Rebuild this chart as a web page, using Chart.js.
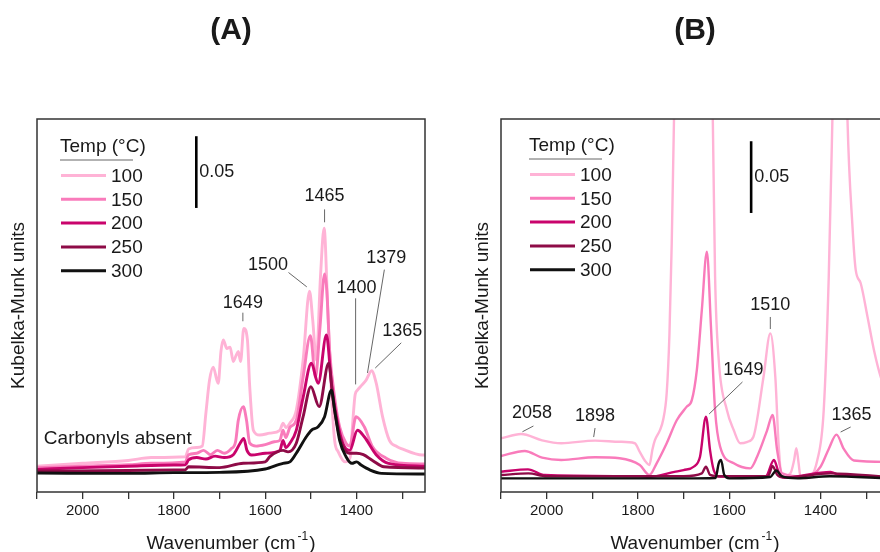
<!DOCTYPE html>
<html>
<head>
<meta charset="utf-8">
<script src="https://cdn.jsdelivr.net/npm/chart.js@4.4.0/dist/chart.umd.min.js"></script>
<style>
html, body { margin: 0; padding: 0; background: #fff; overflow: hidden; width: 880px; height: 552px; }
#wrapA { position: absolute; left: 0; top: 0; width: 440px; height: 552px; }
#wrapB { position: absolute; left: 440px; top: 0; width: 440px; height: 552px; overflow: hidden; }
</style>
</head>
<body>
<div id="wrapA"><canvas id="chartA" width="440" height="552"></canvas></div>
<div id="wrapB"><canvas id="chartB" width="460" height="552"></canvas></div>
<script>
// temperatures (legend) and line colours
var temps = ['100', '150', '200', '250', '300'];
var lineColors = ['#ffb3d6', '#f97bbb', '#c9046c', '#8e0b47', '#111111'];

// x tick labels
var tickLabels = [2000, 1800, 1600, 1400];

// Panel A spectra: [wavenumber, Kubelka-Munk]
var a100 = [[2100,.018],[2000,.020],[1900,.022],[1850,.024],[1775,.0246],[1768,.030],[1750,.031],[1738,.032],[1730,.055],[1722,.078],[1714,.087],[1706,.078],[1703,.0757],[1697,.098],[1692,.106],[1684,.100],[1677,.101],[1670,.091],[1664,.095],[1659,.098],[1654,.091],[1647,.114],[1639,.106],[1634,.0734],[1626,.043],[1612,.0397],[1590,.041],[1568,.043],[1561,.048],[1555,.045],[1546,.048],[1532,.057],[1517,.092],[1503,.140],[1496,.120],[1488,.092],[1479,.150],[1471,.1838],[1463,.127],[1455,.069],[1448,.036],[1440,.028],[1425,.021],[1414,.024],[1408,.050],[1403,.068],[1398,.071],[1390,.074],[1379,.078],[1367,.0845],[1357,.076],[1343,.0525],[1328,.036],[1311,.0316],[1300,.030],[1256,.0258],[1250,.0258]];
var a150 = [[2100,.017],[2000,.018],[1900,.019],[1850,.020],[1775,.021],[1768,.026],[1750,.027],[1735,.029],[1720,.026],[1705,.029],[1690,.027],[1675,.030],[1665,.035],[1659,.050],[1648,.0595],[1641,.050],[1634,.034],[1620,.032],[1600,.033],[1580,.035],[1568,.036],[1561,.043],[1555,.038],[1546,.045],[1532,.050],[1517,.080],[1501,.109],[1490,.080],[1480,.115],[1470,.152],[1465,.140],[1459,.099],[1448,.066],[1437,.0455],[1423,.034],[1415,.032],[1401,.0525],[1383,.0455],[1365,.0316],[1335,.0236],[1300,.020],[1250,.0195]];
var a200 = [[2100,.0158],[2000,.017],[1900,.018],[1800,.0188],[1775,.019],[1768,.0223],[1750,.024],[1730,.023],[1710,.025],[1690,.024],[1670,.026],[1655,.034],[1647,.0374],[1640,.029],[1630,.0258],[1600,.027],[1568,.029],[1561,.036],[1555,.031],[1546,.034],[1532,.043],[1517,.066],[1499,.0897],[1484,.0757],[1466,.1094],[1455,.076],[1444,.0525],[1430,.034],[1415,.029],[1398,.043],[1383,.0385],[1357,.026],[1330,.020],[1250,.018]];
var a250 = [[2100,.0146],[1900,.015],[1800,.0153],[1775,.0155],[1768,.0176],[1700,.017],[1648,.020],[1600,.021],[1590,.0246],[1561,.029],[1550,.028],[1532,.034],[1517,.0525],[1500,.0734],[1482,.0595],[1461,.0897],[1452,.066],[1437,.0385],[1415,.027],[1400,.027],[1385,.026],[1365,.022],[1340,.0176],[1250,.0167]];
var a300 = [[2100,.0132],[1900,.013],[1800,.0135],[1700,.0137],[1600,.016],[1561,.020],[1546,.021],[1532,.027],[1510,.0385],[1499,.043],[1484,.0455],[1470,.0525],[1455,.071],[1448,.057],[1437,.036],[1423,.0246],[1410,.020],[1400,.021],[1390,.0188],[1370,.0153],[1345,.013],[1250,.0125]];

// Panel B spectra: [wavenumber, Kubelka-Munk]
var b100 = [[2100,.0374],[2056,.0404],[2010,.036],[1968,.034],[1894,.0358],[1840,.035],[1807,.034],[1796,.028],[1785,.022],[1775,.0188],[1768,.030],[1763,.036],[1752,.043],[1745,.050],[1737,.069],[1731,.11],[1726,.173],[1721,.26],[1712,.40],[1690,.55],[1670,.55],[1650,.45],[1640,.32],[1636,.26],[1631,.150],[1623,.092],[1605,.057],[1590,.043],[1576,.034],[1560,.035],[1547,.0385],[1525,.080],[1510,.1106],[1499,.080],[1492,.034],[1484,.0107],[1466,.013],[1458,.022],[1453,.0305],[1448,.020],[1444,.0107],[1433,.0095],[1407,.0223],[1393,.057],[1382,.150],[1374,.26],[1365,.40],[1355,.45],[1347,.36],[1341,.26],[1330,.185],[1323,.155],[1312,.1455],[1297,.122],[1283,.099],[1268,.080],[1250,.065]];
var b150 = [[2100,.0251],[2048,.0286],[2010,.024],[1968,.0223],[1894,.0242],[1840,.0235],[1796,.0188],[1775,.0118],[1759,.020],[1737,.034],[1715,.050],[1693,.0595],[1682,.064],[1671,.085],[1660,.127],[1649,.1675],[1640,.115],[1631,.057],[1620,.0316],[1590,.020],[1554,.0165],[1539,.0246],[1517,.043],[1505,.0537],[1495,.029],[1484,.013],[1430,.0107],[1400,.0176],[1382,.030],[1365,.040],[1349,.030],[1327,.022],[1250,.021]];
var b200 = [[2100,.0141],[2041,.0158],[2004,.0118],[1800,.011],[1775,.0105],[1720,.014],[1700,.0153],[1678,.0176],[1664,.0246],[1651,.0525],[1642,.029],[1634,.0153],[1620,.0107],[1520,.011],[1502,.0223],[1492,.014],[1480,.010],[1378,.014],[1360,.012],[1250,.0105]];
var b250 = [[2100,.0118],[2040,.013],[2000,.011],[1700,.011],[1660,.013],[1651,.0176],[1642,.012],[1620,.011],[1515,.011],[1505,.018],[1495,.012],[1480,.010],[1378,.013],[1250,.0105]];
var b300 = [[2100,.0095],[1700,.0095],[1630,.0098],[1623,.020],[1618,.0223],[1611,.012],[1600,.0095],[1510,.0105],[1497,.015],[1485,.011],[1450,.0095],[1380,.011],[1250,.0095]];

// peak labels (text, label position, leader line) in data units
var peaksA = [
  { t: '1649', x: 1649, y: .132, l: [1649, .125, 1649, .119] },
  { t: '1500', x: 1594, y: .158, l: [1549, .153, 1509, .143] },
  { t: '1465', x: 1470, y: .206, l: [1470, .197, 1470, .188] },
  { t: '1400', x: 1400, y: .142, l: [1402, .135, 1402, .075] },
  { t: '1379', x: 1335, y: .163, l: [1339, .155, 1376, .083] },
  { t: '1365', x: 1300, y: .112, l: [1302, .104, 1359, .0864] }
];
var peaksB = [
  { t: '2058', x: 2032, y: .055, l: [2029, .046, 2053, .042] },
  { t: '1898', x: 1894, y: .053, l: [1894, .0446, 1897, .0383] },
  { t: '1649', x: 1569, y: .085, l: [1571, .0767, 1644, .0544] },
  { t: '1510', x: 1510, y: .130, l: [1510, .122, 1510, .1136] },
  { t: '1365', x: 1332, y: .0537, l: [1334, .0453, 1356, .0418] }
];

var FONT = "'Liberation Sans', Arial, sans-serif";
var TXT = '#1a1a1a';

function makeDatasets(series, lw) {
  return series.map(function (s, i) {
    return {
      label: temps[i],
      data: s.map(function (p) { return { x: p[0], y: p[1] }; }),
      borderColor: lineColors[i],
      borderWidth: lw,
      pointRadius: 0,
      cubicInterpolationMode: 'monotone',
      order: series.length - i
    };
  });
}

function decoPlugin(p) {
  return {
    id: 'deco',
    afterDatasetsDraw: function (chart) {
      var ctx = chart.ctx, a = chart.chartArea, x = chart.scales.x, y = chart.scales.y;
      ctx.save();
      // frame
      ctx.strokeStyle = '#333';
      ctx.lineWidth = 1.5;
      ctx.strokeRect(a.left, a.top, a.right - a.left, a.bottom - a.top);

      var cx = (a.left + a.right) / 2;
      ctx.fillStyle = TXT;
      // panel title
      ctx.font = 'bold 30px ' + FONT;
      ctx.textAlign = 'center';
      ctx.textBaseline = 'middle';
      ctx.fillText(p.title, cx, 31);

      // x axis title with superscript
      ctx.font = '19px ' + FONT;
      ctx.textBaseline = 'alphabetic';
      var t1 = 'Wavenumber (cm', t2 = '-1', t3 = ')';
      var w1 = ctx.measureText(t1).width, w3 = ctx.measureText(t3).width;
      ctx.font = '12px ' + FONT;
      var w2 = ctx.measureText(t2).width + 3;
      var sx = cx - (w1 + w2 + w3) / 2, by = 549;
      ctx.font = '19px ' + FONT;
      ctx.textAlign = 'left';
      ctx.fillText(t1, sx, by);
      ctx.fillText(t3, sx + w1 + w2, by);
      ctx.font = '12px ' + FONT;
      ctx.fillText(t2, sx + w1 + 2, by - 9);

      // scale bar
      var bx = x.getPixelForValue(p.bar.x);
      ctx.strokeStyle = '#000';
      ctx.lineWidth = 2.6;
      ctx.beginPath();
      ctx.moveTo(bx, y.getPixelForValue(p.bar.y0));
      ctx.lineTo(bx, y.getPixelForValue(p.bar.y0 + 0.05));
      ctx.stroke();
      ctx.font = '18px ' + FONT;
      ctx.textBaseline = 'middle';
      ctx.fillText('0.05', bx + 3, y.getPixelForValue(p.bar.y0 + 0.025));

      // peak labels
      ctx.textAlign = 'center';
      p.peaks.forEach(function (k) {
        ctx.fillStyle = TXT;
        ctx.fillText(k.t, x.getPixelForValue(k.x), y.getPixelForValue(k.y));
        ctx.strokeStyle = '#555';
        ctx.lineWidth = 0.9;
        ctx.beginPath();
        ctx.moveTo(x.getPixelForValue(k.l[0]), y.getPixelForValue(k.l[1]));
        ctx.lineTo(x.getPixelForValue(k.l[2]), y.getPixelForValue(k.l[3]));
        ctx.stroke();
      });
      if (p.note) {
        ctx.textAlign = 'left';
        ctx.font = '19px ' + FONT;
        ctx.fillText(p.note.t, x.getPixelForValue(p.note.x), y.getPixelForValue(p.note.y));
      }

      // legend
      var lx = a.left + p.leg.dx, ly = a.top + p.leg.dy;
      ctx.font = '19px ' + FONT;
      ctx.textAlign = 'left';
      ctx.fillStyle = TXT;
      ctx.fillText('Temp (\u00B0C)', lx, ly);
      ctx.strokeStyle = '#666';
      ctx.lineWidth = 1;
      ctx.beginPath();
      ctx.moveTo(lx, ly + 13);
      ctx.lineTo(lx + 73, ly + 13);
      ctx.stroke();
      temps.forEach(function (t, i) {
        var ry = ly + 28.5 + i * 23.8;
        ctx.strokeStyle = lineColors[i];
        ctx.lineWidth = 3;
        ctx.beginPath();
        ctx.moveTo(lx + 1, ry);
        ctx.lineTo(lx + 46, ry);
        ctx.stroke();
        ctx.fillStyle = TXT;
        ctx.fillText(t, lx + 51, ry + 1);
      });
      ctx.restore();
    }
  };
}

function makeChart(id, series, p) {
  var ctx = document.getElementById(id).getContext('2d');
  return new Chart(ctx, {
    type: 'line',
    data: { datasets: makeDatasets(series, p.lw) },
    options: {
      responsive: false,
      animation: false,
      devicePixelRatio: 1,
      events: [],
      layout: { padding: { left: p.padLeft, right: p.padRight, top: 119, bottom: 0 } },
      plugins: { legend: { display: false }, tooltip: { enabled: false } },
      scales: {
        x: {
          type: 'linear',
          reverse: true,
          min: 1250,
          max: 2100,
          afterFit: function (s) { s.height = 60; },
          border: { display: false },
          grid: { drawOnChartArea: false, drawTicks: true, tickLength: 7, color: '#333', lineWidth: 1.3 },
          ticks: {
            stepSize: 100,
            autoSkip: false,
            maxRotation: 0,
            includeBounds: false,
            padding: 3,
            color: TXT,
            font: { family: FONT, size: 15 },
            callback: function (v) { return tickLabels.indexOf(v) >= 0 ? String(v) : ''; }
          }
        },
        y: {
          min: 0,
          max: 0.26,
          afterFit: function (s) { s.width = 37; },
          border: { display: false },
          grid: { display: false },
          ticks: { display: false },
          title: {
            display: true,
            text: 'Kubelka-Munk units',
            color: TXT,
            font: { family: FONT, size: 19 },
            padding: { top: 7, bottom: 0 }
          }
        }
      }
    },
    plugins: [decoPlugin(p)]
  });
}

makeChart('chartA', [a100, a150, a200, a250, a300], {
  title: '(A)', padLeft: 0, padRight: 15, lw: 2.9,
  bar: { x: 1751, y0: .198 },
  peaks: peaksA,
  note: { t: 'Carbonyls absent', x: 2085, y: .037 },
  leg: { dx: 23, dy: 28 }
});
makeChart('chartB', [b100, b150, b200, b250, b300], {
  title: '(B)', padLeft: 24, padRight: 11, lw: 2.4,
  bar: { x: 1552, y0: .1945 },
  peaks: peaksB,
  leg: { dx: 28, dy: 27 }
});
</script>
</body>
</html>
